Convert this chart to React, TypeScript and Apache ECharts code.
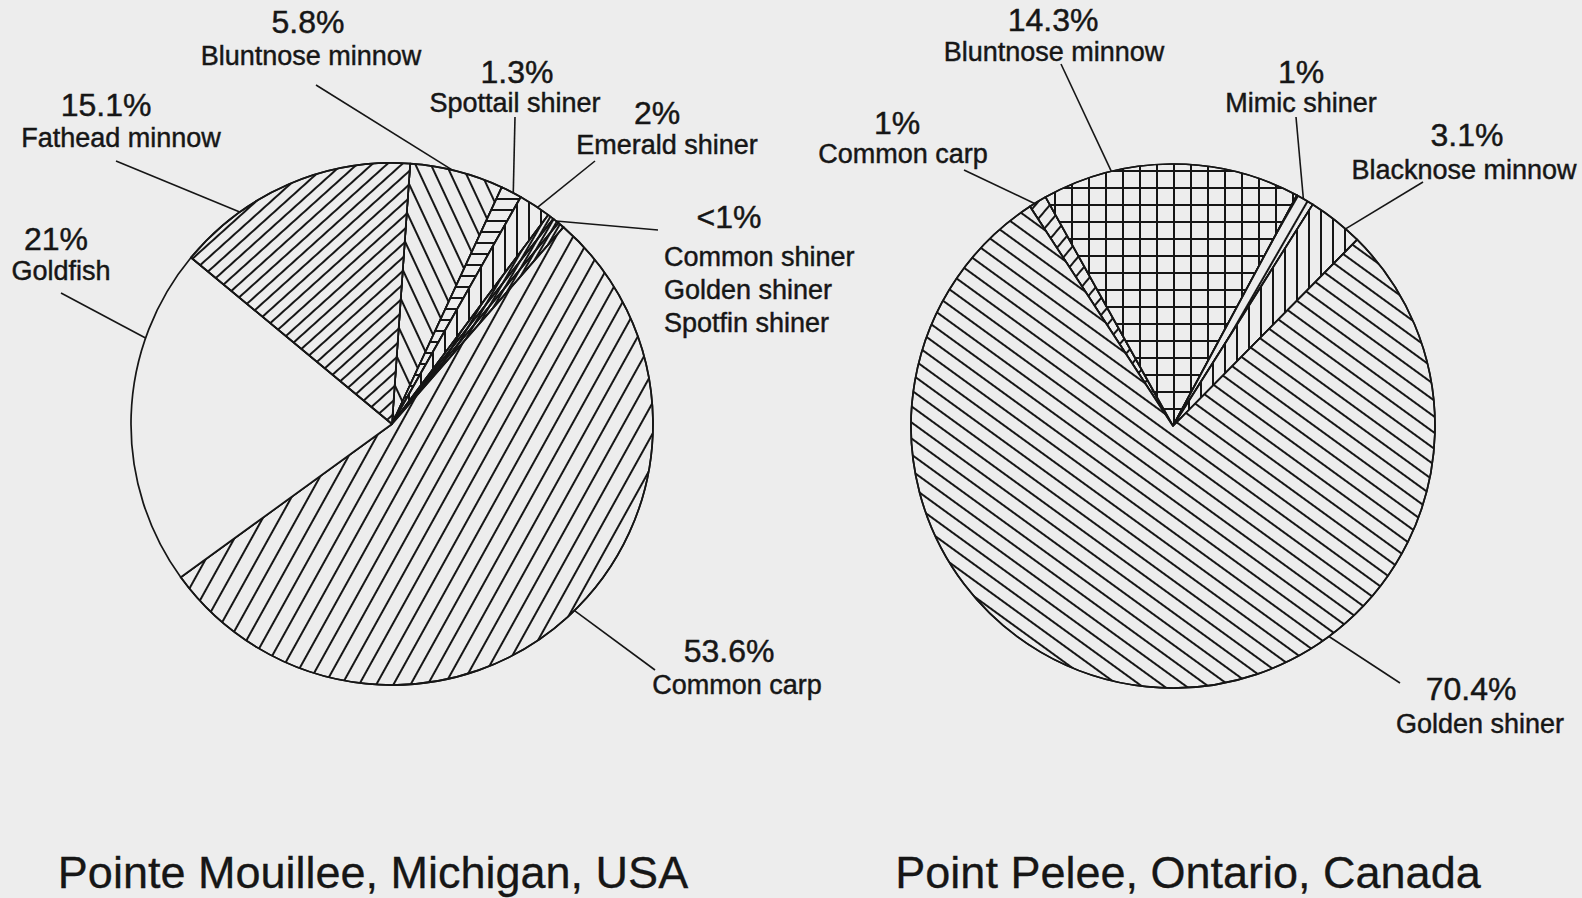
import React, { useEffect, useRef } from "react";
import * as echarts from "echarts";

// ---------- data ----------
const leftSpecies = [
  "Bluntnose minnow",
  "Spottail shiner",
  "Emerald shiner",
  "Common shiner",
  "Golden shiner",
  "Spotfin shiner",
  "Common carp",
  "Goldfish",
  "Fathead minnow",
];
const leftPercents = [5.8, 1.3, 2, 0.4, 0.4, 0.4, 53.6, 21, 15.1];

const rightSpecies = ["Common carp", "Bluntnose minnow", "Mimic shiner", "Blacknose minnow", "Golden shiner"];
const rightPercents = [1, 14.3, 1, 3.1, 70.4];

const siteTitles = ["Pointe Mouillee, Michigan, USA", "Point Pelee, Ontario, Canada"];

// ---------- style / layout ----------
const INK = "#161616";
const PAPER = "#ededed";
const FONT = '"Liberation Sans", Arial, Helvetica, sans-serif';
const W = 1582;
const H = 898;

type Pie = { center: [number, number]; r: number; startTop: number };
const LEFT: Pie = { center: [392, 424], r: 261, startTop: 4 };
const RIGHT: Pie = { center: [1173, 426], r: 262, startTop: -33.1 };

type Hatch = { kind: "line"; angle: number; gap: number } | { kind: "grid"; gap: number } | null;

// angle: direction of the hatch lines, degrees counter-clockwise from horizontal
const leftHatch: Hatch[] = [
  { kind: "line", angle: -65, gap: 13 },
  { kind: "line", angle: 0, gap: 10 },
  { kind: "line", angle: 90, gap: 11 },
  { kind: "line", angle: 60, gap: 3 },
  { kind: "line", angle: 60, gap: 3 },
  { kind: "line", angle: 60, gap: 3 },
  { kind: "line", angle: 61, gap: 14 },
  null,
  { kind: "line", angle: 42, gap: 9 },
];
const rightHatch: Hatch[] = [
  { kind: "line", angle: 50, gap: 10 },
  { kind: "grid", gap: 16 },
  { kind: "line", angle: 60, gap: 10 },
  { kind: "line", angle: 90, gap: 11 },
  { kind: "line", angle: -36, gap: 12 },
];

function decalOf(h: Hatch): any {
  if (!h) return undefined;
  const lw = 1.3;
  if (h.kind === "grid") {
    return {
      symbol: "rect",
      symbolSize: 1,
      symbolKeepAspect: false,
      color: INK,
      dashArrayX: [
        [h.gap, 0],
        [lw, h.gap - lw],
      ],
      dashArrayY: [lw, 0, h.gap - lw, 0],
      rotation: 0,
    };
  }
  return {
    symbol: "rect",
    symbolSize: 1,
    symbolKeepAspect: false,
    color: INK,
    dashArrayX: [h.gap, 0],
    dashArrayY: [lw, h.gap - lw],
    rotation: (-h.angle * Math.PI) / 180,
  };
}

// label placement: slice index, fraction inside slice for leader anchor,
// outer leader end, percent text centre, species text centre
type LabelSpec = {
  slice: number;
  frac: number;
  from: [number, number];
  pct: [number, number];
  name: [number, number];
};
const leftLabelSpecs: LabelSpec[] = [
  { slice: 0, frac: 0.45, from: [316, 85], pct: [308, 22], name: [311, 56] },
  { slice: 1, frac: 0.6, from: [515, 117], pct: [517, 72], name: [515, 103] },
  { slice: 2, frac: 0.6, from: [595, 161], pct: [657, 113], name: [667, 145] },
  { slice: 6, frac: 0.49, from: [655, 670], pct: [729, 651], name: [737, 685] },
  { slice: 7, frac: 0.73, from: [61, 293], pct: [56, 239], name: [61, 271] },
  { slice: 8, frac: 0.27, from: [116, 161], pct: [106, 105], name: [121, 138] },
];
const smallGroup = {
  slices: [3, 4, 5],
  leaderSlice: 4,
  frac: 0.5,
  from: [658, 230] as [number, number],
  pct: [729, 217] as [number, number],
  nameX: 664,
  nameY: [257, 290, 323],
};
const rightLabelSpecs: LabelSpec[] = [
  { slice: 0, frac: 0.3, from: [964, 170], pct: [897, 123], name: [903, 154] },
  { slice: 1, frac: 0.27, from: [1061, 64], pct: [1053, 20], name: [1054, 52] },
  { slice: 2, frac: 0.4, from: [1296, 117], pct: [1301, 72], name: [1301, 103] },
  { slice: 3, frac: 0.72, from: [1423, 182], pct: [1467, 135], name: [1464, 170] },
  { slice: 4, frac: 0.35, from: [1400, 683], pct: [1471, 689], name: [1480, 724] },
];

const pctText = (v: number) => (v < 1 ? "<1%" : `${v}%`);

function edgePoint(pie: Pie, values: number[], idx: number, frac: number): [number, number] {
  const total = values.reduce((a, b) => a + b, 0);
  let acc = 0;
  for (let j = 0; j < idx; j++) acc += values[j];
  const deg = pie.startTop + ((acc + frac * values[idx]) / total) * 360;
  const a = (deg * Math.PI) / 180;
  return [pie.center[0] + pie.r * Math.sin(a), pie.center[1] - pie.r * Math.cos(a)];
}

function text(x: number, y: number, s: string, size: number, align = "center", heavy = 0.45): any {
  return {
    type: "text",
    x,
    y,
    silent: true,
    style: {
      text: s,
      font: `${size}px ${FONT}`,
      fill: INK,
      stroke: INK,
      lineWidth: heavy,
      align,
      textAlign: align,
      verticalAlign: "middle",
      textVerticalAlign: "middle",
    },
  };
}

function leader(p1: [number, number], p2: [number, number]): any {
  return {
    type: "line",
    silent: true,
    shape: { x1: p1[0], y1: p1[1], x2: p2[0], y2: p2[1] },
    style: { stroke: INK, lineWidth: 1.6 },
  };
}

const PCT = 32;
const NAME = 27;
const TITLE = 45;

function buildGraphics(): any[] {
  const g: any[] = [];
  for (const s of leftLabelSpecs) {
    g.push(leader(s.from, edgePoint(LEFT, leftPercents, s.slice, s.frac)));
    g.push(text(s.pct[0], s.pct[1], pctText(leftPercents[s.slice]), PCT));
    g.push(text(s.name[0], s.name[1], leftSpecies[s.slice], NAME));
  }
  g.push(leader(smallGroup.from, edgePoint(LEFT, leftPercents, smallGroup.leaderSlice, smallGroup.frac)));
  g.push(text(smallGroup.pct[0], smallGroup.pct[1], pctText(leftPercents[smallGroup.slices[0]]), PCT));
  smallGroup.slices.forEach((si, k) =>
    g.push(text(smallGroup.nameX, smallGroup.nameY[k], leftSpecies[si], NAME, "left"))
  );
  for (const s of rightLabelSpecs) {
    g.push(leader(s.from, edgePoint(RIGHT, rightPercents, s.slice, s.frac)));
    g.push(text(s.pct[0], s.pct[1], pctText(rightPercents[s.slice]), PCT));
    g.push(text(s.name[0], s.name[1], rightSpecies[s.slice], NAME));
  }
  g.push(text(373, 872, siteTitles[0], TITLE, "center", 0.3));
  g.push(text(1188, 872, siteTitles[1], TITLE, "center", 0.3));
  return g;
}

function pieSeries(pie: Pie, names: string[], values: number[], hatch: Hatch[]): any {
  return {
    type: "pie",
    center: pie.center,
    radius: pie.r,
    startAngle: 90 - pie.startTop,
    clockwise: true,
    silent: true,
    avoidLabelOverlap: false,
    minAngle: 0,
    label: { show: false },
    labelLine: { show: false },
    emphasis: { disabled: true },
    itemStyle: { color: PAPER, borderColor: INK, borderWidth: 1.7 },
    data: names.map((n, i) => ({
      name: n,
      value: values[i],
      itemStyle: hatch[i] ? { decal: decalOf(hatch[i]) } : {},
    })),
  };
}

export default function App() {
  const ref = useRef<HTMLDivElement>(null);
  useEffect(() => {
    if (!ref.current) return;
    const chart = echarts.init(ref.current, undefined, { renderer: "svg" });
    chart.setOption({
      animation: false,
      backgroundColor: PAPER,
      series: [
        pieSeries(LEFT, leftSpecies, leftPercents, leftHatch),
        pieSeries(RIGHT, rightSpecies, rightPercents, rightHatch),
      ],
      graphic: { elements: buildGraphics() },
    });
    return () => chart.dispose();
  }, []);
  return (
    <div
      ref={ref}
      style={{ position: "fixed", left: 0, top: 0, width: W, height: H, background: PAPER }}
    />
  );
}
